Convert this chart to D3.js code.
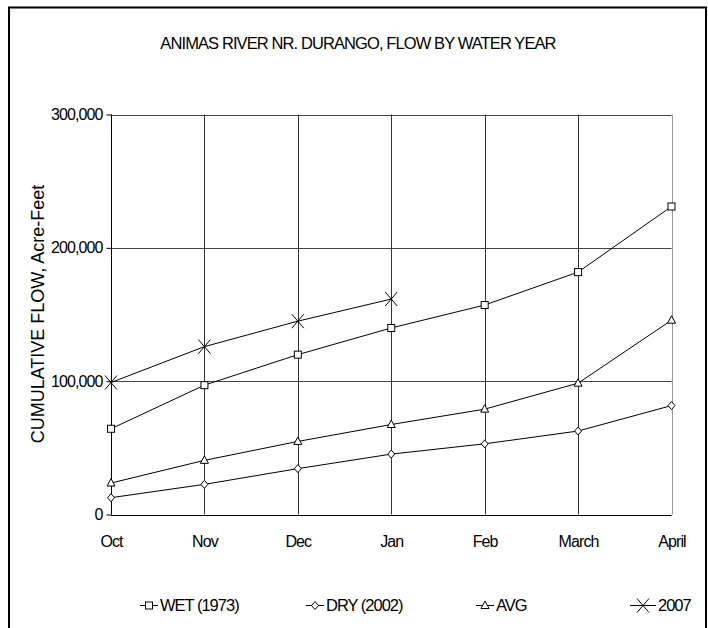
<!DOCTYPE html>
<html><head><meta charset="utf-8">
<script src="https://cdn.jsdelivr.net/npm/d3@7"></script>
<style>body{margin:0;background:#fff;} svg{display:block;}</style>
</head><body>
<script>
const months = ["Oct","Nov","Dec","Jan","Feb","March","April"];
const wet1973 = [64300, 97000, 119900, 139900, 157100, 181800, 231000];
const dry2002 = [12600, 22600, 34400, 45300, 53000, 62600, 81700];
const avg = [23600, 40600, 54800, 67500, 79000, 98500, 145700];
const y2007 = [99000, 125900, 145000, 161600];
const yTicks = [0, 100000, 200000, 300000];
const seriesNames = ["WET (1973)", "DRY (2002)", "AVG", "2007"];
const title = "ANIMAS RIVER NR. DURANGO, FLOW BY WATER YEAR";
const yLabel = "CUMULATIVE FLOW, Acre-Feet";

const W = 708, H = 628;
const svg = d3.select("body").append("svg").attr("width", W).attr("height", H);
svg.append("rect").attr("width", W).attr("height", H).attr("fill", "#fff");
svg.append("path").attr("d", `M9,640 V7.5 H706 V640`).attr("fill","none").attr("stroke","#000").attr("stroke-width",2);

const x = d3.scalePoint().domain(months).range([111, 671.5]);
const y = d3.scaleLinear().domain([0, 300000]).range([514.5, 114.5]);
const narrow = "'Liberation Sans', Arial, sans-serif";

svg.append("text").attr("x", 358).attr("y", 49).attr("text-anchor","middle")
  .attr("font-family", narrow).attr("font-size", 16.5).attr("letter-spacing", -0.9).text(title);

const g = svg.append("g");
g.selectAll(".hg").data(yTicks.filter(d=>d>0)).join("line")
  .attr("x1", x(months[0])).attr("x2", x(months[months.length-1]))
  .attr("y1", d=>Math.round(y(d))+0.5).attr("y2", d=>Math.round(y(d))+0.5)
  .attr("stroke","#444").attr("stroke-width",1);
g.selectAll(".vg").data(months.slice(1)).join("line")
  .attr("x1", d=>Math.round(x(d))+0.5).attr("x2", d=>Math.round(x(d))+0.5)
  .attr("y1", y(300000)).attr("y2", y(0))
  .attr("stroke", (d,i)=> i===months.length-2 ? "#999" : "#333").attr("stroke-width",1);

const yAxis = d3.axisLeft(y).tickValues(yTicks).tickSize(5).tickPadding(4).tickFormat(d3.format(","));
const ya = svg.append("g").attr("transform", `translate(${Math.round(x(months[0]))+0.5},0)`).call(yAxis);
ya.selectAll("text").attr("font-family", narrow).attr("font-size", 16).attr("letter-spacing", -0.9).attr("fill","#000");
ya.selectAll("line,path").attr("stroke","#000");
ya.select(".domain").attr("d", `M0,${y(300000)}V${y(0)}`);

const xAxis = d3.axisBottom(x).tickSize(0).tickPadding(20);
const xa = svg.append("g").attr("transform", `translate(0,${Math.round(y(0))+0.5})`).call(xAxis);
xa.selectAll("text").attr("font-family", narrow).attr("font-size", 16).attr("letter-spacing", -0.9).attr("fill","#000");
xa.select(".domain").attr("stroke","#000").attr("d", `M${x(months[0])},0H${x(months[6])}`);

svg.append("text").attr("transform", "translate(44,314) rotate(-90)").attr("text-anchor","middle")
  .attr("font-family", narrow).attr("font-size", 18).text(yLabel);

function marker(sel, type){
  if(type===0) sel.append("rect").attr("x",-3.5).attr("y",-3.5).attr("width",7).attr("height",7).attr("fill","#fff").attr("stroke","#000");
  else if(type===1) sel.append("path").attr("d","M0,-4L3.5,0L0,4L-3.5,0Z").attr("fill","#fff").attr("stroke","#000");
  else if(type===2) sel.append("path").attr("d","M0,-4.5L4,3L-4,3Z").attr("fill","#fff").attr("stroke","#000");
  else sel.append("path").attr("d","M-6,-7L6,7M-6,7L6,-7").attr("fill","none").attr("stroke","#000");
}
const series = [wet1973, dry2002, avg, y2007];
const line = d3.line().x((d,i)=>x(months[i])).y(d=>y(d));
series.forEach((s, k)=>{
  svg.append("path").attr("d", line(s)).attr("fill","none").attr("stroke","#000").attr("stroke-width",1);
  s.forEach((v,i)=>{
    const m = svg.append("g").attr("transform", `translate(${x(months[i])},${y(v)})`);
    marker(m, k);
  });
});

const legX = [140, 306, 476, 630];
seriesNames.forEach((n,k)=>{
  const lg = svg.append("g").attr("transform", `translate(${legX[k]},605)`);
  const len = k===3 ? 26 : 18;
  lg.append("line").attr("x1",0).attr("x2",len).attr("y1",0.5).attr("y2",0.5).attr("stroke","#000");
  const m = lg.append("g").attr("transform", `translate(${len/2},0.5)`);
  marker(m, k);
  lg.append("text").attr("x", len+2).attr("y", 6).attr("font-family", narrow).attr("font-size", 16.5).attr("letter-spacing", -1).text(n);
});
</script>
</body></html>
